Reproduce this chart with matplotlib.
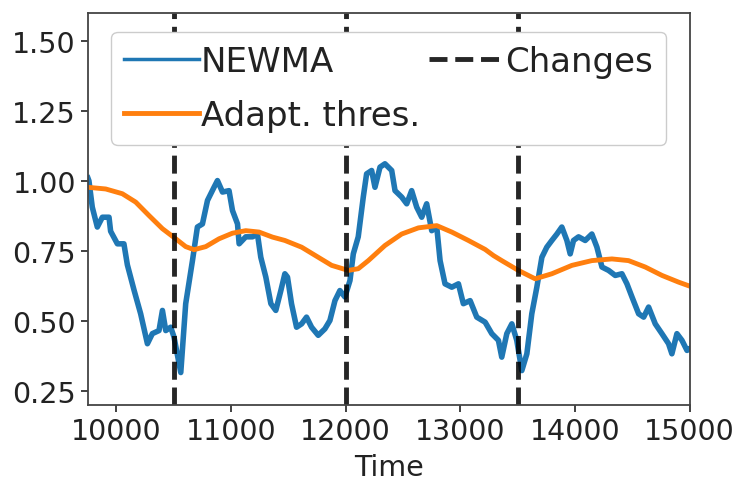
import matplotlib
matplotlib.use("Agg")
import matplotlib.pyplot as plt

# NEWMA statistic
newma_t = [9752, 9761, 9790, 9834, 9878, 9936, 9950, 10009, 10066, 10096,
           10154, 10212, 10271, 10314, 10372, 10402, 10431, 10474, 10503, 10562,
           10605, 10664, 10707, 10751, 10795, 10852, 10882, 10926, 10983, 11013,
           11057, 11071, 11129, 11188, 11231, 11260, 11304, 11348, 11391, 11435,
           11470, 11493, 11528, 11572, 11616, 11659, 11703, 11761, 11819, 11863,
           11907, 11950, 11994, 12038, 12067, 12110, 12154, 12183, 12227, 12256,
           12300, 12343, 12402, 12431, 12489, 12533, 12576, 12620, 12664, 12707,
           12751, 12795, 12824, 12867, 12926, 12984, 13027, 13086, 13144, 13217,
           13275, 13333, 13362, 13406, 13450, 13493, 13537, 13581, 13624, 13668,
           13712, 13755, 13799, 13843, 13886, 13930, 13959, 13988, 14032, 14090,
           14148, 14192, 14236, 14294, 14352, 14410, 14454, 14498, 14556, 14600,
           14643, 14701, 14759, 14817, 14846, 14890, 14934, 14978, 15000]
newma_v = [1.01, 1.00, 0.906, 0.835, 0.87, 0.87, 0.82, 0.775, 0.775, 0.70,
           0.61, 0.525, 0.418, 0.454, 0.465, 0.537, 0.465, 0.477, 0.442, 0.315,
           0.561, 0.715, 0.835, 0.846, 0.93, 0.977, 1.001, 0.96, 0.965, 0.894,
           0.846, 0.775, 0.80, 0.80, 0.81, 0.727, 0.656, 0.561, 0.537, 0.608,
           0.668, 0.656, 0.561, 0.477, 0.489, 0.513, 0.477, 0.448, 0.471, 0.501,
           0.572, 0.608, 0.585, 0.644, 0.739, 0.80, 0.942, 1.025, 1.037, 0.977,
           1.049, 1.061, 1.037, 0.965, 0.942, 0.918, 0.965, 0.906, 0.87, 0.918,
           0.822, 0.835, 0.715, 0.632, 0.62, 0.632, 0.561, 0.572, 0.513, 0.495,
           0.454, 0.43, 0.37, 0.454, 0.489, 0.43, 0.322, 0.382, 0.525, 0.62,
           0.727, 0.763, 0.787, 0.81, 0.835, 0.787, 0.739, 0.787, 0.80, 0.787,
           0.81, 0.763, 0.692, 0.68, 0.662, 0.668, 0.632, 0.585, 0.525, 0.513,
           0.549, 0.489, 0.454, 0.418, 0.382, 0.454, 0.43, 0.394, 0.40]

# adaptive threshold
thres_t = [9750, 9907, 10052, 10169, 10285, 10402, 10518, 10605, 10678, 10780,
           10896, 11013, 11129, 11245, 11362, 11470, 11616, 11761, 11878, 12023,
           12110, 12198, 12343, 12489, 12635, 12795, 12926, 13071, 13217, 13290,
           13362, 13507, 13653, 13799, 13974, 14148, 14323, 14468, 14614, 14760,
           14905, 15000]
thres_v = [0.977, 0.971, 0.954, 0.924, 0.876, 0.829, 0.793, 0.765, 0.754, 0.765,
           0.793, 0.813, 0.822, 0.817, 0.799, 0.787, 0.763, 0.727, 0.698, 0.68,
           0.686, 0.715, 0.769, 0.81, 0.832, 0.84, 0.817, 0.787, 0.755, 0.733,
           0.715, 0.68, 0.65, 0.668, 0.698, 0.715, 0.721, 0.715, 0.692, 0.662,
           0.638, 0.624]

changes = [10500, 12000, 13500]

fig = plt.figure(figsize=(7.4, 4.81), dpi=100)
ax = fig.add_axes([0.1185, 0.1565, 0.8133, 0.8145])

ax.plot(newma_t, newma_v, color='#1f77b4', lw=4, label='NEWMA')
ax.plot(thres_t, thres_v, color='#ff7f0e', lw=3.5, label='Adapt. thres.')
for i, c in enumerate(changes):
    ax.axvline(c, color='k', ls='--', lw=3.5, alpha=0.85,
               label='Changes' if i == 0 else None)

ax.set_xlim(9750, 15000)
ax.set_ylim(0.2, 1.6)
ax.set_xticks([10000, 11000, 12000, 13000, 14000, 15000])
ax.set_yticks([0.25, 0.5, 0.75, 1.0, 1.25, 1.5])
ax.tick_params(labelsize=20.5, width=1.3, length=5, colors='#333333', labelcolor='#222222')
for s in ax.spines.values():
    s.set_linewidth(1.3)
    s.set_color('#444444')
ax.set_xlabel('Time', fontsize=20.5, labelpad=6, color='#222222')

leg = ax.legend(ncol=2, loc='upper center', fontsize=24.5, handlelength=2.2,
                handletextpad=0.05, columnspacing=0.25, labelspacing=0.6,
                borderaxespad=0.55, framealpha=1.0)
for txt in leg.get_texts():
    txt.set_color('#222222')
leg.legend_handles[0].set_linewidth(2.5)

fig.savefig('out.png', dpi=100)
